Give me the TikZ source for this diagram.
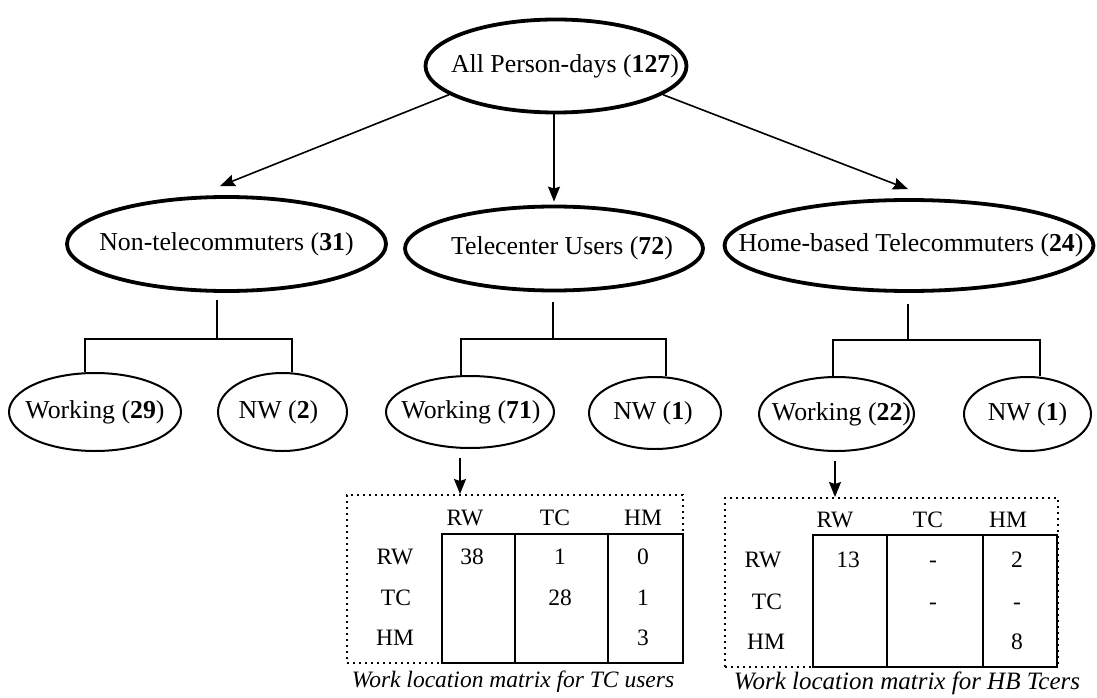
\documentclass[tikz,border=0pt]{standalone}
\usepackage{fontspec}
\setmainfont{Liberation Serif}
\usetikzlibrary{shapes.geometric,arrows.meta,calc}
\newcommand{\ctr}[2][0pt]{\makebox[0pt]{\hspace*{#1}#2}}
\begin{document}
\begin{tikzpicture}[x=1pt,y=-1pt,
  big/.style={draw, ellipse, line width=3.8pt, inner sep=0pt,
    font=\fontsize{25.8}{30}\selectfont},
  small/.style={draw, ellipse, line width=2pt, inner sep=0pt,
    font=\fontsize{25.8}{30}\selectfont},
  arr/.style={line width=1.6pt, -{Stealth[length=15pt,width=12pt,inset=2pt]}},
  tree/.style={line width=1.9pt},
  dotbox/.style={draw, line width=2pt, dash pattern=on 2pt off 4pt, inner sep=0pt},
  tbl/.style={line width=2.2pt},
  cell/.style={inner sep=0pt, text height=15.5pt, text depth=0pt,
    font=\fontsize{23.5}{28}\selectfont},
  captext/.style={inner sep=0pt, font=\fontsize{23.5}{28}\selectfont\itshape}]
\useasboundingbox (0,0) rectangle (1097,698);

% main nodes
\node[big, minimum width=261pt, minimum height=93pt] (all) at (556,66)
  {\ctr[18pt]{All Person-days (\textbf{127})}};
\node[big, minimum width=319pt, minimum height=94pt] (nt) at (226.5,244)
  {\ctr{Non-telecommuters (\textbf{31})}};
\node[big, minimum width=298pt, minimum height=84pt] (tc) at (554,248.5)
  {\ctr[16pt]{Telecenter Users (\textbf{72})}};
\node[big, minimum width=369pt, minimum height=91pt] (hb) at (909,245.5)
  {\ctr[4pt]{Home-based Telecommuters (\textbf{24})}};

\node[small, minimum width=172pt, minimum height=78pt] (w29) at (95,412)
  {\ctr{Working (\textbf{29})}};
\node[small, minimum width=129pt, minimum height=78pt] (nw2) at (282.5,412)
  {\ctr[-8pt]{NW (\textbf{2})}};
\node[small, minimum width=168pt, minimum height=72pt] (w71) at (470,412)
  {\ctr[2pt]{Working (\textbf{71})}};
\node[small, minimum width=132pt, minimum height=72pt] (nw1) at (655,413)
  {\ctr[-4pt]{NW (\textbf{1})}};
\node[small, minimum width=155pt, minimum height=74pt] (w22) at (836.5,414)
  {\ctr[10pt]{Working (\textbf{22})}};
\node[small, minimum width=127pt, minimum height=74pt] (nw1b) at (1027.5,414)
  {\ctr{NW (\textbf{1})}};

% arrows from the top
\draw[arr] (all.195) -- ($(nt.north)+(-6.5,-9)$);
\draw[arr] (all.south -| tc.north) -- ($(tc.north)+(0,-3)$);
\draw[arr] (all.345) -- ($(hb.north)+(-1,-9)$);

% tree connectors
\draw[tree] ($(nt.south)+(-9.5,7)$) -- ++(0,39) coordinate (ntm);
\draw[tree] ($(w29.north)+(-10,0)$) |- (ntm) -| ($(nw2.north)+(9.5,0)$);
\draw[tree] ($(tc.south)+(-1,9.5)$) -- ++(0,37) coordinate (tcm);
\draw[tree] ($(w71.north)+(-9,0)$) |- (tcm) -| ($(nw1.north)+(11,0)$);
\draw[tree] ($(hb.south)+(-1,11)$) -- ++(0,36) coordinate (hbm);
\draw[tree] ($(w22.north)+(-3.5,0)$) |- (hbm) -| ($(nw1b.north)+(12.5,0)$);

% matrix boxes
\node[dotbox, minimum width=336pt, minimum height=168pt] (tcbox) at (515,579) {};
\node[dotbox, minimum width=333pt, minimum height=169pt] (hbbox) at (891.5,582.5) {};

\draw[arr] ($(w71.south)+(-10,9)$) coordinate (a1) -- (a1 |- tcbox.north);
\draw[arr] ($(w22.south)+(-1.5,9)$) coordinate (a2) -- (a2 |- hbbox.north);

% TC users matrix
\draw[tbl] (442,534) rectangle (683,663);
\draw[tbl] (515,534) -- (515,663);
\draw[tbl] (608,534) -- (608,663);
\node[cell] (tcc1) at (465,518) {RW};
\node[cell] (tcc2) at (555,518) {TC};
\node[cell] (tcc3) at (643,518) {HM};
\node[cell] (tcr1) at (395,557) {RW};
\node[cell] (tcr2) at (396,598) {TC};
\node[cell] (tcr3) at (395,638) {HM};
\node[cell] (tcv11) at (472,557) {38};
\node[cell] (tcv12) at (560,557) {1};
\node[cell] (tcv13) at (643,557) {0};
\node[cell] (tcv22) at (560,598) {28};
\node[cell] (tcv23) at (643,598) {1};
\node[cell] (tcv33) at (643,638) {3};
\node[captext] (tccap) at (513,682) {Work location matrix for TC users};

% HB Tcers matrix
\draw[tbl] (813,535) rectangle (1057,667);
\draw[tbl] (887,535) -- (887,667);
\draw[tbl] (983,535) -- (983,667);
\node[cell] (hbc1) at (835,520) {RW};
\node[cell] (hbc2) at (928,520) {TC};
\node[cell] (hbc3) at (1008,520) {HM};
\node[cell] (hbr1) at (763,560) {RW};
\node[cell] (hbr2) at (767,602) {TC};
\node[cell] (hbr3) at (766,642) {HM};
\node[cell] (hbv11) at (848,560) {13};
\node[cell] (hbv12) at (933,560) {-};
\node[cell] (hbv13) at (1017,560) {2};
\node[cell] (hbv22) at (933,602) {-};
\node[cell] (hbv23) at (1017,602) {-};
\node[cell] (hbv33) at (1017,642) {8};
\node[captext, font=\fontsize{25}{28}\selectfont\itshape] (hbcap) at (907,683) {Work location matrix for HB Tcers};
\end{tikzpicture}
\end{document}
